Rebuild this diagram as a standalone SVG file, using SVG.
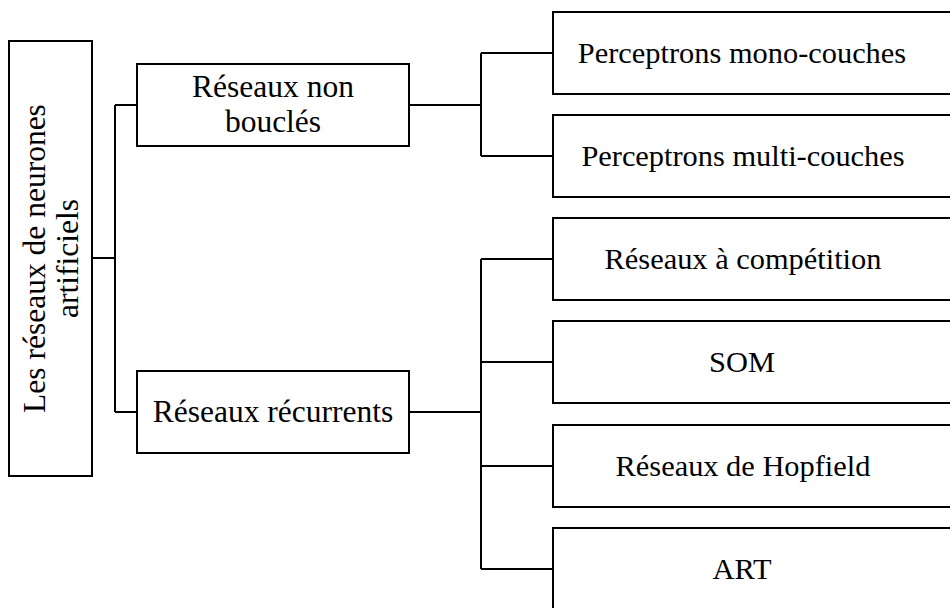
<svg xmlns="http://www.w3.org/2000/svg" width="950" height="608" viewBox="0 0 950 608">
<style>
.box{fill:#fff;stroke:#000;stroke-width:2}
.t{font-family:"Liberation Serif","Times New Roman",serif;fill:#000;text-anchor:middle}
.l{font-size:31.5px}
.r{font-size:30.4px}
.c{fill:none;stroke:#000;stroke-width:2}
</style>
<rect width="950" height="608" fill="#fff"/>
<g id="connectors">
<path class="c" d="M92 258H115M115 105V412M115 105H137M115 412H137"/>
<path class="c" d="M409 105H481M481 53V156M481 53H553M481 156H553"/>
<path class="c" d="M409 412H481M481 259V569M481 259H553M481 362H553M481 466H553M481 569H553"/>
</g>
<g id="root">
<rect class="box" x="9" y="41" width="83" height="435"/>
<text class="t l" transform="translate(45,258.5) rotate(-90)">Les réseaux de neurones</text>
<text class="t l" transform="translate(77.5,258.5) rotate(-90)">artificiels</text>
</g>
<g id="non-boucles">
<rect class="box" x="137" y="64" width="272" height="82"/>
<text class="t l" x="273" y="97">Réseaux non</text>
<text class="t l" x="273" y="131.5">bouclés</text>
</g>
<g id="recurrents">
<rect class="box" x="137" y="371" width="272" height="82"/>
<text class="t l" x="273" y="422">Réseaux récurrents</text>
</g>
<g id="mono">
<rect class="box" x="553" y="12" width="420" height="82"/>
<text class="t r" x="742" y="63">Perceptrons mono-couches</text>
</g>
<g id="multi">
<rect class="box" x="553" y="115" width="420" height="82"/>
<text class="t r" x="743" y="166">Perceptrons multi-couches</text>
</g>
<g id="competition">
<rect class="box" x="553" y="218" width="420" height="82"/>
<text class="t r" x="743" y="269">Réseaux à compétition</text>
</g>
<g id="som">
<rect class="box" x="553" y="321" width="420" height="82"/>
<text class="t r" x="742" y="372">SOM</text>
</g>
<g id="hopfield">
<rect class="box" x="553" y="425" width="420" height="82"/>
<text class="t r" x="743" y="476">Réseaux de Hopfield</text>
</g>
<g id="art">
<rect class="box" x="553" y="528" width="420" height="82"/>
<text class="t r" x="742" y="579">ART</text>
</g>
</svg>
